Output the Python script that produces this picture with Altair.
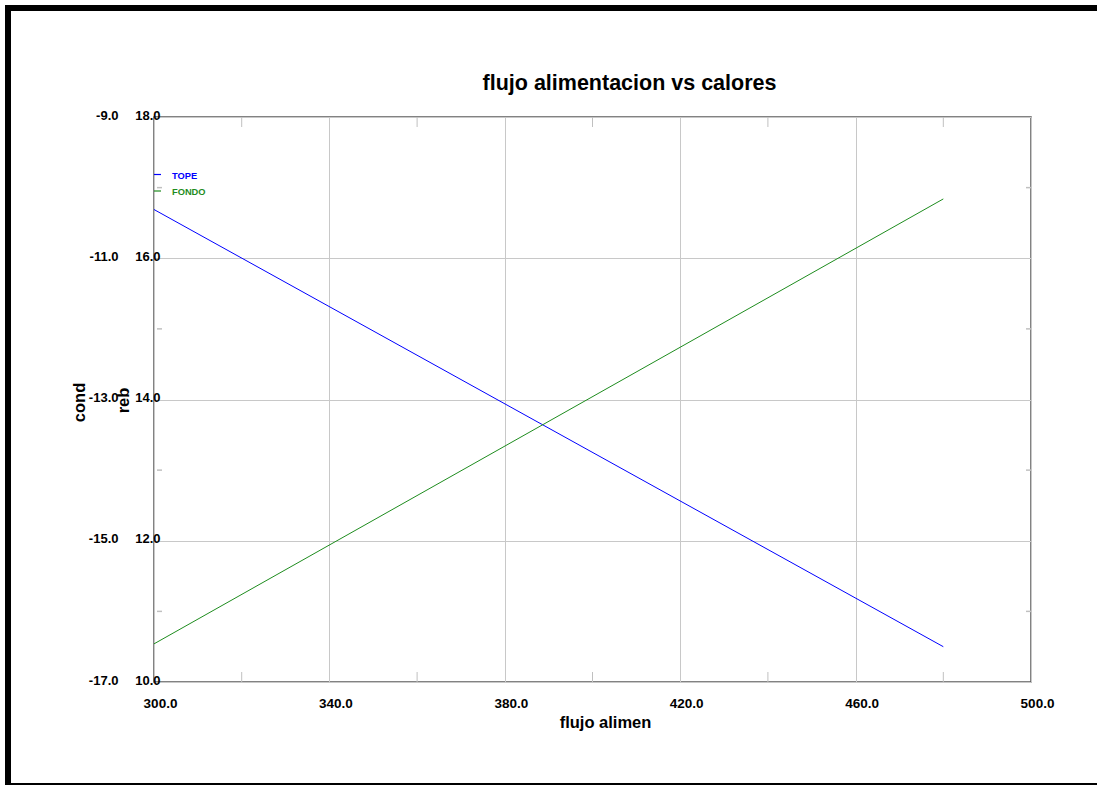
import altair as alt
import pandas as pd

# Feed flow (x) and the two heat duties
flujo = [300.0, 480.0]
tope = [-10.31, -16.50]    # condenser duty, left outer axis "cond"
fondo = [10.54, 16.84]     # reboiler duty, left inner axis "reb"

x_ticks = [300, 340, 380, 420, 460, 500]
x_minor = [320, 360, 400, 440, 480]
reb_ticks = [10, 12, 14, 16, 18]
reb_minor = [11, 13, 15, 17]
cond_ticks = [-17, -15, -13, -11, -9]

series = ["TOPE", "FONDO"]
colors = ["#0000ff", "#1e8c1e"]

FONT = "Liberation Sans"
W, H = 877, 565
ASCII_MINUS = "replace(datum.label, '\u2212', '-')"

df = pd.DataFrame({"flujo": flujo, "tope": tope, "fondo": fondo})
xminor_df = pd.DataFrame({"v": x_minor})
yminor_df = pd.DataFrame({"v": reb_minor})
one = alt.Data(values=[{}])

x_scale = alt.Scale(domain=[300, 500], nice=False, zero=False)
reb_scale = alt.Scale(domain=[10, 18], nice=False, zero=False)
cond_scale = alt.Scale(domain=[-17, -9], nice=False, zero=False)

x_axis = alt.Axis(
    values=x_ticks, format=".1f", grid=True, gridColor="#c8c8c8", gridWidth=1,
    ticks=False, domain=False, labelFont=FONT, labelFontSize=13.5,
    labelFontWeight="bold", labelColor="black", labelPadding=14, labelOffset=6,
    labelFlush=False, labelOverlap=False,
    title="flujo alimen", titleFont=FONT, titleFontSize=16.5, titleFontWeight="bold",
    titleColor="black", titleX=451, titleY=45, titleAlign="center",
    titleBaseline="alphabetic",
)

reb_axis = alt.Axis(
    orient="left", offset=0, values=reb_ticks, format=".1f", grid=True,
    gridColor="#c8c8c8", gridWidth=1, ticks=False, domain=False,
    labelFont=FONT, labelFontSize=13, labelFontWeight="bold", labelColor="black",
    labelPadding=-6, labelAlign="right", labelBaseline="middle", labelOffset=-2,
    labelFlush=False, labelOverlap=False, labelExpr=ASCII_MINUS,
    title="reb", titleFont=FONT, titleFontSize=16.5, titleFontWeight="bold",
    titleColor="black", titleX=-31, titleY=283, titleAngle=270,
    titleAlign="center", titleBaseline="middle",
)

cond_axis = alt.Axis(
    orient="left", offset=0, values=cond_ticks, format=".1f", grid=False,
    ticks=False, domain=False,
    labelFont=FONT, labelFontSize=13, labelFontWeight="bold", labelColor="black",
    labelPadding=36, labelAlign="right", labelBaseline="middle", labelOffset=-2,
    labelFlush=False, labelOverlap=False, labelExpr=ASCII_MINUS,
    title="cond", titleFont=FONT, titleFontSize=16.5, titleFontWeight="bold",
    titleColor="black", titleX=-75, titleY=285, titleAngle=270,
    titleAlign="center", titleBaseline="middle",
)

# Data lines
tope_line = alt.Chart(df).mark_line(color=colors[0], strokeWidth=1).encode(
    x=alt.X("flujo:Q", scale=x_scale, axis=x_axis),
    y=alt.Y("tope:Q", scale=cond_scale, axis=cond_axis),
)
fondo_line = alt.Chart(df).mark_line(color=colors[1], strokeWidth=1).encode(
    x=alt.X("flujo:Q", scale=x_scale, axis=x_axis),
    y=alt.Y("fondo:Q", scale=reb_scale, axis=reb_axis),
)

# Minor ticks pointing into the plot
tick_color = "#c0c0c0"
x_minor_top = alt.Chart(xminor_df).mark_rule(color=tick_color, strokeWidth=1).encode(
    x=alt.X("v:Q", scale=x_scale, axis=x_axis), y=alt.value(0), y2=alt.value(10)
)
x_minor_bot = alt.Chart(xminor_df).mark_rule(color=tick_color, strokeWidth=1).encode(
    x=alt.X("v:Q", scale=x_scale, axis=x_axis), y=alt.value(H - 10), y2=alt.value(H)
)
y_minor_left = alt.Chart(yminor_df).mark_rule(color=tick_color, strokeWidth=1.5).encode(
    y=alt.Y("v:Q", scale=reb_scale, axis=None), x=alt.value(3), x2=alt.value(8)
)
y_minor_right = alt.Chart(yminor_df).mark_rule(color=tick_color, strokeWidth=1.5).encode(
    y=alt.Y("v:Q", scale=reb_scale, axis=None), x=alt.value(W - 5), x2=alt.value(W)
)

# Legend in the top-left corner of the plot
legend_layers = []
for i, (name, col) in enumerate(zip(series, colors)):
    ly = 57.5 + 16.5 * i
    legend_layers.append(
        alt.Chart(one).mark_rule(color=col, strokeWidth=1.2).encode(
            x=alt.value(0), x2=alt.value(7), y=alt.value(ly)
        )
    )
    legend_layers.append(
        alt.Chart(one).mark_text(
            text=name, color=col, font=FONT, fontSize=9.3, fontWeight="bold",
            align="left", baseline="middle",
        ).encode(x=alt.value(18), y=alt.value(ly + 1))
    )

# Outer black frame (top, left and bottom edges)
frame_top = alt.Chart(one).mark_rule(color="black", strokeWidth=6).encode(
    x=alt.value(-149), x2=alt.value(943), y=alt.value(-109)
)
frame_left = alt.Chart(one).mark_rule(color="black", strokeWidth=6).encode(
    y=alt.value(-112), y2=alt.value(668), x=alt.value(-146)
)
frame_bottom = alt.Chart(one).mark_rule(color="black", strokeWidth=2).encode(
    x=alt.value(-149), x2=alt.value(943), y=alt.value(667)
)

# The title is placed from the top of the full bounds (the frame at y=5),
# so it is pushed down with dy to sit at baseline y=88.
chart = alt.layer(
    tope_line, fondo_line, x_minor_top, x_minor_bot, y_minor_left, y_minor_right,
    *legend_layers, frame_top, frame_left, frame_bottom,
).resolve_scale(y="independent").properties(
    width=W,
    height=H,
    padding={"left": 154, "top": 117, "right": 66, "bottom": 103},
    autosize=alt.AutoSizeParams(type="none"),
    background="white",
    title=alt.TitleParams(
        "flujo alimentacion vs calores", font=FONT, fontSize=21.5,
        fontWeight="bold", color="black", anchor="middle", dx=37,
        frame="group", offset=0, baseline="alphabetic", dy=109,
    ),
).configure_view(stroke="#5a5a5a", strokeWidth=1.5)

chart.save("out.html", embed_options={"renderer": "svg", "actions": False})
